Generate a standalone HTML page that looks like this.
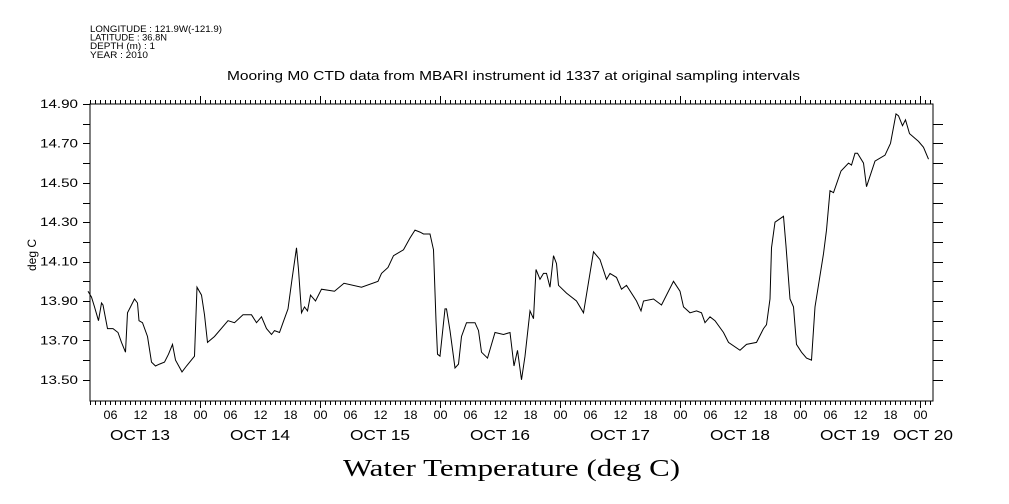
<!DOCTYPE html>
<html><head><meta charset="utf-8"><style>
body{margin:0;background:#fff;}
svg{display:block;}
text{font-family:"Liberation Sans",sans-serif;fill:#000;}
</style></head><body>
<svg id="chart" width="1009" height="504" viewBox="0 0 1009 504" xmlns="http://www.w3.org/2000/svg">
<g font-size="9">
<text x="90" y="32" textLength="132" lengthAdjust="spacingAndGlyphs">LONGITUDE : 121.9W(-121.9)</text>
<text x="90" y="40.5" textLength="77" lengthAdjust="spacingAndGlyphs">LATITUDE : 36.8N</text>
<text x="90" y="49" textLength="65" lengthAdjust="spacingAndGlyphs">DEPTH (m) : 1</text>
<text x="90" y="58" textLength="58" lengthAdjust="spacingAndGlyphs">YEAR : 2010</text>
</g>
<text x="227" y="80" font-size="13" textLength="573" lengthAdjust="spacingAndGlyphs">Mooring M0 CTD data from MBARI instrument id 1337 at original sampling intervals</text>
<text transform="translate(36,255) rotate(-90)" font-size="12" text-anchor="middle">deg C</text>
<text x="343" y="476" font-size="24" textLength="337" lengthAdjust="spacingAndGlyphs" style="font-family:'Liberation Serif',serif">Water Temperature (deg C)</text>
<rect x="90" y="104" width="843" height="297" fill="none" stroke="#000" stroke-width="1"/>
<g id="axes"></g>
<g id="series"></g>
</svg>
<script>
const hours=[1.6,2.3,2.9,3.7,4.3,4.6,5.5,6.6,7.6,8.3,9.1,9.5,9.9,10.9,11.5,11.8,12.5,13.5,14.3,15.1,15.9,16.9,17.7,18.5,19.1,20.4,21.3,22.9,23.4,24.3,24.9,25.5,26.9,29.6,30.9,32.6,34.3,35.3,36.3,37.3,38.3,38.9,39.9,40.6,41.6,42.4,43.3,43.7,44.3,44.9,45.5,46.1,47.1,48.3,50.9,52.8,56.3,59.6,60.3,61.6,62.7,64.7,66.0,67.0,68.0,68.7,70.0,70.7,71.2,71.5,72.0,73.0,73.3,74.0,75.0,75.7,76.3,77.3,79.0,79.7,80.3,81.5,83.0,84.7,86.0,86.8,87.5,88.3,89.0,90.0,90.7,91.2,92.0,92.7,93.3,94.0,94.7,95.3,95.7,97.3,99.3,100.7,102.7,104.0,105.3,106.0,107.3,108.3,109.3,111.3,112.2,112.7,114.7,116.3,118.7,120.0,120.7,122.0,123.3,124.3,125.0,126.0,127.0,128.7,129.7,132.0,133.3,135.3,136.7,137.3,138.0,138.3,139.0,140.7,141.2,142.0,142.7,143.3,144.3,145.3,146.3,147.0,148.7,149.3,150.0,150.7,152.2,153.7,154.3,155.0,155.5,156.7,157.3,159.0,161.0,162.1,163.2,163.7,164.5,165.1,165.9,167.7,168.7,169.7];
const temps=[13.95,13.92,13.87,13.80,13.89,13.88,13.76,13.76,13.74,13.69,13.64,13.84,13.86,13.91,13.89,13.80,13.79,13.72,13.59,13.57,13.58,13.59,13.63,13.68,13.60,13.54,13.57,13.62,13.97,13.93,13.83,13.69,13.72,13.80,13.79,13.83,13.83,13.79,13.82,13.76,13.73,13.75,13.74,13.79,13.86,14.01,14.17,14.06,13.84,13.87,13.85,13.93,13.90,13.96,13.95,13.99,13.97,14.00,14.04,14.07,14.13,14.16,14.22,14.26,14.25,14.24,14.24,14.16,13.80,13.63,13.62,13.86,13.86,13.75,13.56,13.58,13.72,13.79,13.79,13.75,13.64,13.61,13.74,13.73,13.74,13.57,13.65,13.50,13.62,13.85,13.81,14.06,14.01,14.04,14.04,13.97,14.13,14.09,13.98,13.94,13.90,13.84,14.15,14.11,14.01,14.04,14.02,13.96,13.98,13.90,13.85,13.90,13.91,13.88,14.00,13.95,13.87,13.84,13.85,13.84,13.79,13.82,13.80,13.74,13.69,13.65,13.68,13.69,13.76,13.78,13.91,14.17,14.30,14.33,14.18,13.91,13.87,13.68,13.64,13.61,13.60,13.87,14.14,14.26,14.46,14.45,14.56,14.60,14.59,14.65,14.65,14.60,14.48,14.61,14.64,14.70,14.85,14.84,14.79,14.82,14.75,14.71,14.68,14.62];
const yTickLabels=["14.90","14.70","14.50","14.30","14.10","13.90","13.70","13.50"];
const dayLabels=["OCT 13","OCT 14","OCT 15","OCT 16","OCT 17","OCT 18","OCT 19","OCT 20"];
const hourLabels=["06","12","18","00"];
const X0=90,X1=933,Y0=104,Y1=401;
const H0=2,H1=170.6;
const V0=13.3925,V1=14.9;
function xs(h){return X0+(h-H0)/(H1-H0)*(X1-X0);}
function ys(v){return Y1-(v-V0)/(V1-V0)*(Y1-Y0);}
const NS="http://www.w3.org/2000/svg";
const axes=document.getElementById('axes');
function ln(x1,y1,x2,y2,name){const l=document.createElementNS(NS,'line');l.setAttribute('x1',x1);l.setAttribute('y1',y1);l.setAttribute('x2',x2);l.setAttribute('y2',y2);l.setAttribute('stroke','#000');


axes.appendChild(l);}
function tx(x,y,s,size,anchor,name,len){const t=document.createElementNS(NS,'text');t.setAttribute('x',x);t.setAttribute('y',y);t.setAttribute('font-size',size);t.setAttribute('text-anchor',anchor);t.textContent=s;
if(len){t.setAttribute('textLength',len);t.setAttribute('lengthAdjust','spacingAndGlyphs');}


axes.appendChild(t);}
for(let k=0;k<=14;k++){const v=14.9-k*0.1;const y=Math.round(ys(v))+0.5;
ln(83,y,X0,y,'y-tick');
if(k>0) ln(X1,y,X1+10,y,'y-tick-right');}
yTickLabels.forEach(s=>{tx(78,ys(parseFloat(s))+4,s,12,'end','y-tick-label',38);});
for(let h=Math.ceil(H0);h<=H1;h++){const x=Math.round(xs(h))+0.5;const major=h%24===0;
ln(x,Y1,x,Y1+(major?7:4),'x-tick');
ln(x,Y0,x,Y0+(major?0:-4),'x-tick-top');
if(major) ln(x,Y0,x,Y0-8,'x-tick-top-major');
if(h%6===0){tx(x,419,hourLabels[((h/6)%4+3)%4],12,'middle','hour-label',14);}}
dayLabels.forEach((s,i)=>{let h=i*24+12;if(i===6)h=i*24+10;if(i===7)h=i*24+0.6;tx(xs(h),440,s,15,'middle','day-label',60);});
const p=document.createElementNS(NS,'polyline');
p.setAttribute('points',hours.map((h,i)=>xs(h).toFixed(1)+','+ys(temps[i]).toFixed(1)).join(' '));
p.setAttribute('fill','none');p.setAttribute('stroke','#000');p.setAttribute('stroke-width','1');


document.getElementById('series').appendChild(p);
</script>
</body></html>
